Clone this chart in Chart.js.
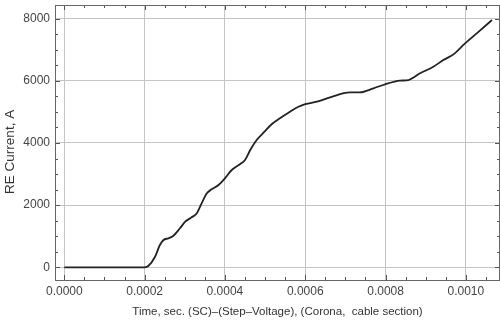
<!DOCTYPE html>
<html>
<head>
<meta charset="utf-8">
<script src="https://cdn.jsdelivr.net/npm/chart.js@4"></script>
<style>
  html, body { margin: 0; padding: 0; background: #fff; }
  #wrap { width: 500px; height: 325px; }
</style>
</head>
<body>
<div id="wrap"><canvas id="chart"></canvas></div>
<script>
// data
const time = [0, 0.0001, 0.0002, 0.000209, 0.000226, 0.000238, 0.000247, 0.000259, 0.000271, 0.000288,
  0.000301, 0.000317, 0.000330, 0.000342, 0.000355, 0.000367, 0.000384, 0.000400, 0.000417, 0.000438,
  0.000450, 0.000463, 0.000479, 0.000496, 0.000517, 0.000537, 0.000562, 0.000583, 0.000600, 0.000629,
  0.000662, 0.000711, 0.000736, 0.000770, 0.000799, 0.000836, 0.000857, 0.000886, 0.000919, 0.000944,
  0.000969, 0.000998, 0.001027, 0.001065];
const current = [0, 0, 0, 40, 340, 717, 878, 933, 1007, 1255,
  1467, 1608, 1737, 2059, 2381, 2510, 2648, 2864, 3131, 3324,
  3452, 3774, 4096, 4331, 4611, 4794, 5006, 5167, 5254, 5328,
  5469, 5631, 5631, 5760, 5889, 6005, 6027, 6242, 6455, 6670,
  6853, 7207, 7529, 7957];

// labelled (major) ticks and the minor steps between them
const xTickLabels = [0, 0.0002, 0.0004, 0.0006, 0.0008, 0.0010];
const yTickLabels = [0, 2000, 4000, 6000, 8000];
const xMinorStep = 0.00005;
const yMinorStep = 500;

const xTitle = 'Time, sec. (SC)\u2013(Step\u2013Voltage), (Corona,  cable section)';
const yTitle = 'RE Current, A';

const FONT = 'Liberation Sans, Arial, sans-serif';

function isMajor(v, list) {
  return list.some(function (m) { return Math.abs(v - m) < 1e-9 * (1 + Math.abs(m)); });
}

// all tick values (major + minor) that fall inside the scale range
function buildTicks(scale, step) {
  const out = [];
  const first = Math.ceil(scale.min / step - 1e-9);
  const last = Math.floor(scale.max / step + 1e-9);
  for (let k = first; k <= last; k++) {
    out.push({ value: Math.round(k * step * 1e8) / 1e8 });
  }
  scale.ticks = out;
}

// frame + inward ticks (major long, minor short) on all four sides
const frameTicks = {
  id: 'frameTicks',
  afterDatasetsDraw(chart) {
    const ctx = chart.ctx;
    const a = chart.chartArea;
    const xs = chart.scales.x, ys = chart.scales.y;
    ctx.save();
    ctx.strokeStyle = '#555';
    ctx.lineWidth = 1;
    ctx.beginPath();
    xs.ticks.forEach(function (t) {
      const px = Math.round(xs.getPixelForValue(t.value)) + 0.5;
      const len = isMajor(t.value, xTickLabels) ? 5 : 3;
      ctx.moveTo(px, a.bottom); ctx.lineTo(px, a.bottom - len);
      ctx.moveTo(px, a.top); ctx.lineTo(px, a.top + len);
    });
    ys.ticks.forEach(function (t) {
      const py = Math.round(ys.getPixelForValue(t.value)) + 0.5;
      const len = isMajor(t.value, yTickLabels) ? 5 : 3;
      ctx.moveTo(a.left, py); ctx.lineTo(a.left + len, py);
      ctx.moveTo(a.right, py); ctx.lineTo(a.right - len, py);
    });
    ctx.stroke();
    ctx.strokeStyle = '#666';
    ctx.strokeRect(a.left + 0.5, a.top + 0.5, a.right - a.left - 1, a.bottom - a.top);
    ctx.restore();
  }
};

const points = time.map(function (t, i) { return { x: t, y: current[i] }; });

const ctx = document.getElementById('chart');
const myChart = new Chart(ctx, {
  type: 'line',
  data: {
    datasets: [{
      data: points,
      borderColor: '#222',
      borderWidth: 1.8,
      pointRadius: 0,
      cubicInterpolationMode: 'monotone',
      fill: false
    }]
  },
  options: {
    responsive: true,
    maintainAspectRatio: false,
    animation: false,
    layout: { padding: { top: 5, right: 0, left: 0, bottom: 0 } },
    plugins: { legend: { display: false }, tooltip: { enabled: false } },
    scales: {
      x: {
        type: 'linear',
        min: -0.0000232,
        max: 0.001085,
        afterBuildTicks: function (s) { buildTicks(s, xMinorStep); },
        afterFit: function (s) { s.height = 45; s.paddingLeft = 0; s.paddingRight = 0; },
        border: { display: false },
        grid: {
          drawTicks: false,
          color: function (c) { return c.tick && isMajor(c.tick.value, xTickLabels) ? '#c4c4c4' : 'rgba(0,0,0,0)'; }
        },
        ticks: {
          autoSkip: false,
          maxRotation: 0,
          padding: 4,
          color: '#444',
          font: { family: FONT, size: 12 },
          callback: function (v) { return isMajor(v, xTickLabels) ? v.toFixed(4) : ''; }
        },
        title: {
          display: true,
          text: xTitle,
          color: '#333',
          padding: { bottom: 6 },
          font: { family: FONT, size: 11.5 }
        }
      },
      y: {
        type: 'linear',
        min: -409,
        max: 8441,
        afterBuildTicks: function (s) { buildTicks(s, yMinorStep); },
        afterFit: function (s) { s.width = 55; s.paddingTop = 0; s.paddingBottom = 0; },
        border: { display: false },
        grid: {
          drawTicks: false,
          color: function (c) { return c.tick && isMajor(c.tick.value, yTickLabels) ? '#c4c4c4' : 'rgba(0,0,0,0)'; }
        },
        ticks: {
          autoSkip: false,
          padding: 5,
          color: '#444',
          font: { family: FONT, size: 12 },
          callback: function (v) { return isMajor(v, yTickLabels) ? String(v) : ''; }
        },
        title: {
          display: true,
          text: yTitle + '\u00a0\u00a0\u00a0\u00a0\u00a0',
          color: '#333',
          padding: { top: 2 },
          font: { family: FONT, size: 13.5 }
        }
      }
    }
  },
  plugins: [frameTicks]
});
</script>
</body>
</html>
